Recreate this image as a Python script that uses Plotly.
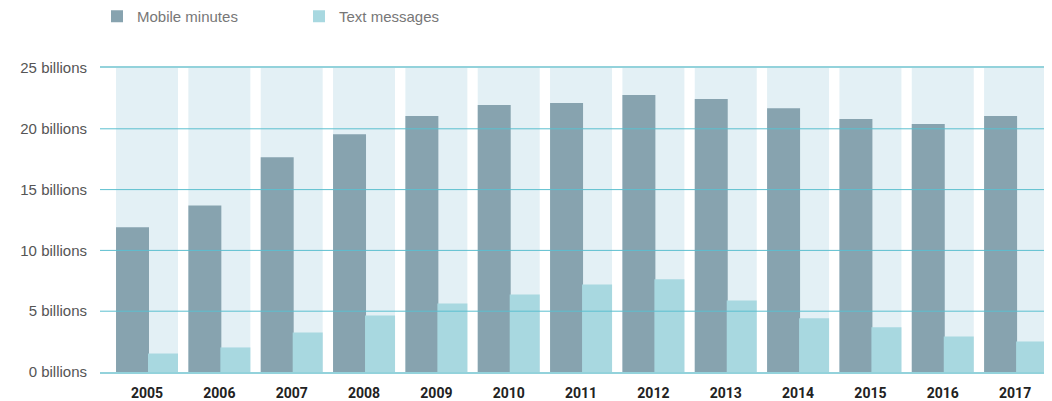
import plotly.graph_objects as go

years = ["2005", "2006", "2007", "2008", "2009", "2010", "2011",
         "2012", "2013", "2014", "2015", "2016", "2017"]
mobile_minutes = [11.9, 13.7, 17.67, 19.56, 21.05, 21.95, 22.12,
                  22.78, 22.45, 21.7, 20.8, 20.39, 21.05]
text_messages = [1.52, 2.02, 3.25, 4.65, 5.64, 6.38, 7.2,
                 7.62, 5.89, 4.41, 3.67, 2.92, 2.51]
y_ticks = [0, 5, 10, 15, 20, 25]
y_tick_labels = [f"{v} billions" for v in y_ticks]
y_max = max(y_ticks)

fig = go.Figure()

# light backdrop column for each year
fig.add_trace(go.Bar(
    x=years, y=[y_max] * len(years), width=0.857, offset=-0.4286,
    marker=dict(color="#e3f0f5", line=dict(width=0)),
    showlegend=False, hoverinfo="skip",
))
fig.add_trace(go.Bar(
    x=years, y=mobile_minutes, name="Mobile minutes",
    width=0.456, offset=-0.4286,
    marker=dict(color="#87a3af", line=dict(width=0)),
))
fig.add_trace(go.Bar(
    x=years, y=text_messages, name="Text messages",
    width=0.415, offset=0.0136,
    marker=dict(color="#a8d8e0", line=dict(width=0)),
))

# gridlines drawn above the bars, as in the reference
for v in y_ticks[1:-1]:
    fig.add_hline(y=v, line=dict(color="#5cbfcf", width=1), layer="above")

# page body has an 8px default margin, so the figure is sized to fit the window
W, H = 1044, 393
L, T, B = 92, 60, 29
plot_w = W - L
plot_h = H - T - B
fig.update_layout(
    width=W, height=H,
    margin=dict(l=L, r=0, t=T, b=B, autoexpand=False),
    barmode="overlay",
    plot_bgcolor="white", paper_bgcolor="white",
    showlegend=True,
    legend=dict(
        orientation="h", xref="paper", yref="paper",
        x=(89 - L) / plot_w, y=1 + (T + 8) / plot_h, xanchor="left", yanchor="top",
        font=dict(family="Liberation Sans, Arial, sans-serif", size=15, color="#777777"),
        entrywidth=157, entrywidthmode="pixels",
        bgcolor="rgba(0,0,0,0)",
    ),
    xaxis=dict(
        type="category", range=[-0.65, 12.51],
        showgrid=False, zeroline=False,
        showline=True, mirror=True, linecolor="#93d2db", linewidth=2,
        layer="above traces",
        ticks="", ticklabelstandoff=7,
        tickfont=dict(family="Liberation Sans Narrow, Roboto, sans-serif",
                      size=14, color="#222222", weight="bold"),
        fixedrange=True,
    ),
    yaxis=dict(
        range=[0, y_max], tickmode="array", tickvals=y_ticks, ticktext=y_tick_labels,
        showgrid=False, zeroline=False, showline=False, ticks="",
        ticklabelstandoff=12,
        tickfont=dict(family="Liberation Sans, Arial, sans-serif", size=15, color="#555555"),
        fixedrange=True,
    ),
)

fig.write_html("out.html")
